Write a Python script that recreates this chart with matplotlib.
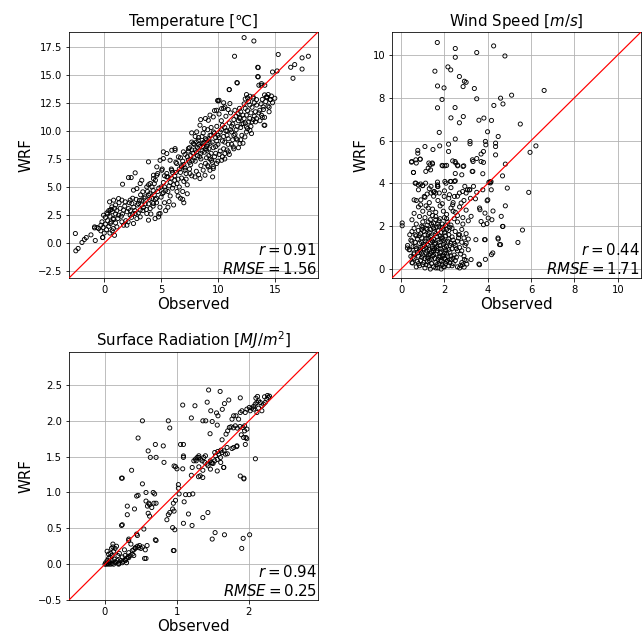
import matplotlib
matplotlib.use("Agg")
import matplotlib.pyplot as plt

# ---------------- data (observed, WRF) ----------------
temp_pairs = [
    (-2.54, 0.86), (-2.5, -0.68), (-2.3, -0.47), (-1.96, 0.06), (-1.75, 0.33), (-1.58, 0.5),
    (-1.17, 0.74), (-0.85, 1.36), (-0.79, 0.24), (-0.15, 0.5), (-0.85, 1.45), (-0.64, 1.40),
    (-0.29, 1.60), (-0.12, 0.51),
    (12.3, 18.3), (13.16, 18.0), (11.46, 16.64), (15.3, 16.8), (13.5, 15.66), (13.5, 14.83),
    (11.67, 14.3), (11.0, 13.67), (13.6, 14.06), (13.8, 14.06), (14.1, 13.2), (14.3, 13.0),
    (14.6, 12.78), (14.5, 12.1), (14.06, 10.5), (13.9, 11.2), (14.8, 15.24), (15.2, 15.33),
    (16.4, 15.66), (16.75, 15.9), (17.4, 16.5), (17.95, 16.64), (16.6, 14.68), (17.4, 15.5),
    (12.4, 12.84), (12.6, 12.95), (9.97, 12.7), (10.1, 12.72),
    (1.61, 5.25), (2.13, 5.84), (2.37, 5.84), (2.72, 6.26), (3.30, 5.60), (3.16, 5.31),
    (2.57, 4.72), (2.87, 4.86), (3.39, 4.57), (3.74, 5.01), (4.04, 5.31), (4.33, 5.75), (4.62, 6.05),
    (3.89, 7.24), (4.91, 7.38), (5.20, 8.13), (5.50, 7.98), (5.94, 8.27), (6.23, 8.42),
    (-0.06, 2.49), (0.23, 2.70), (0.53, 2.94), (0.67, 3.23), (0.47, 3.68), (0.82, 3.83),
    (1.26, 3.97), (1.55, 3.83), (1.84, 3.68), (2.28, 3.83), (2.43, 3.53), (2.13, 3.08),
    (1.70, 2.94), (1.26, 2.49), (0.82, 2.11), (0.53, 1.75), (1.11, 1.45), (1.55, 1.90),
    (1.99, 1.60), (2.57, 1.75), (2.87, 2.19), (3.16, 2.34), (2.28, 2.49), (2.72, 2.64),
    (3.16, 2.94), (3.45, 3.17), (3.01, 3.53), (3.30, 3.83), (3.60, 4.12), (3.89, 4.27),
    (4.18, 3.97), (4.33, 3.53), (4.04, 3.08), (3.74, 2.64), (3.89, 2.05), (4.47, 2.19),
    (4.77, 2.34), (4.91, 2.64),
    (8.48, 11.00), (8.42, 10.50), (7.69, 9.82), (8.13, 9.91), (9.15, 10.94), (9.59, 11.24),
    (9.88, 11.83), (10.32, 11.98), (10.61, 12.13), (11.05, 12.43), (11.49, 11.83), (11.78, 11.54),
    (11.93, 11.09), (12.22, 10.65), (12.51, 10.35), (12.81, 10.05), (12.95, 9.76), (12.37, 9.46),
    (11.93, 8.87), (11.35, 8.57), (10.91, 8.13), (10.61, 7.98), (10.32, 7.38), (9.88, 7.09),
    (9.59, 6.64), (9.15, 6.79), (9.44, 7.38), (9.01, 8.27), (8.71, 8.87), (8.27, 9.16),
    (7.84, 8.87), (7.40, 8.42), (6.96, 8.13), (6.52, 7.68), (6.23, 8.27), (5.79, 7.38),
    (5.20, 7.53), (5.06, 6.49), (4.62, 6.79), (4.33, 6.05), (5.50, 6.20), (5.94, 6.49),
    (6.37, 7.09), (6.81, 6.79), (7.11, 6.49), (7.54, 6.20), (7.98, 5.90), (8.42, 5.75),
    (8.86, 6.05), (9.30, 6.49), (9.53, 5.90),
    (13.54, 15.63), (13.54, 14.80), (14.12, 14.06), (13.83, 14.20), (11.70, 14.26), (10.99, 13.67),
    (10.03, 12.66), (12.81, 13.08), (12.51, 13.23), (13.10, 13.02), (13.39, 12.78), (14.27, 13.02),
    (14.42, 13.23), (14.62, 12.78), (13.98, 12.13), (14.12, 10.50), (13.39, 11.09), (13.83, 11.39),
    (13.68, 11.83),
    (-0.3, 1.1), (-0.1, 1.4), (0.0, 0.9), (0.1, 1.7), (0.2, 1.2), (0.3, 2.0), (0.4, 1.5),
    (0.5, 2.4), (0.5, 0.9), (0.6, 1.9), (0.7, 2.8), (0.8, 1.3), (0.8, 2.2), (0.9, 3.1),
    (1.0, 1.8), (1.0, 2.6), (0.3, 2.6), (0.6, 3.0), (-0.2, 1.9), (0.9, 0.7), (0.1, 2.3),
    (0.7, 1.1), (1.0, 3.4), (0.4, 2.9), (-0.5, 1.3),
    (1.2, 2.2), (1.4, 3.1), (1.6, 2.6), (1.8, 3.3), (2.0, 2.8), (2.2, 3.6), (2.4, 2.3),
    (2.6, 3.2), (2.8, 3.9), (3.0, 2.7), (1.3, 3.6), (1.9, 2.0), (2.5, 4.0), (2.1, 1.9),
    (1.7, 1.6), (2.9, 3.4), (3.2, 4.3), (3.4, 2.9), (1.1, 2.9), (2.3, 2.9),
    (3.6, 3.5), (3.8, 4.6), (4.0, 3.9), (4.2, 5.0), (4.4, 4.3), (4.6, 3.6), (4.8, 4.9),
    (5.0, 4.1), (5.2, 5.4), (5.4, 4.7), (3.7, 3.0), (4.1, 2.6), (4.5, 5.6), (4.9, 3.2),
    (5.3, 3.6), (3.9, 5.2), (4.3, 4.7), (4.7, 6.2), (5.1, 6.6), (5.5, 5.9), (4.0, 4.4),
    (4.6, 4.0), (5.2, 4.5), (3.5, 4.0), (4.8, 2.6), (5.4, 2.9), (5.0, 5.0), (4.4, 5.3),
    (3.9, 3.5), (5.3, 6.0),
    (5.6, 4.6), (5.8, 5.4), (6.0, 4.9), (6.2, 6.0), (6.4, 5.3), (6.6, 6.6), (6.8, 5.8),
    (7.0, 7.0), (7.2, 6.2), (7.4, 7.4), (5.7, 3.7), (6.1, 3.4), (6.5, 4.2), (6.9, 4.6),
    (7.3, 5.2), (5.9, 6.6), (6.3, 7.2), (6.7, 7.6), (7.1, 7.9), (5.6, 5.9), (6.0, 6.3),
    (6.4, 4.6), (6.8, 6.9), (7.2, 5.7), (7.5, 6.6), (5.8, 4.2), (6.2, 5.6), (6.6, 5.0),
    (7.0, 5.5), (7.4, 8.2), (5.6, 3.2), (6.9, 3.9), (7.3, 4.4), (6.7, 4.0), (7.0, 3.6),
    (7.6, 7.0), (7.8, 8.0), (8.0, 7.3), (8.2, 8.5), (8.4, 7.7), (8.6, 8.9), (8.8, 8.1),
    (9.0, 9.2), (9.2, 8.4), (9.4, 9.6), (7.7, 6.0), (8.1, 6.4), (8.5, 6.9), (8.9, 7.1),
    (9.3, 7.5), (7.9, 8.8), (8.3, 9.4), (8.7, 9.8), (9.1, 10.1), (7.6, 7.8), (8.0, 8.3),
    (8.4, 8.6), (8.8, 9.0), (9.2, 9.3), (7.8, 7.4), (8.2, 7.8), (8.6, 8.2), (9.0, 8.6),
    (9.4, 8.0), (7.5, 8.5), (8.1, 9.0), (8.5, 7.5), (8.9, 8.4), (9.3, 8.9), (8.3, 6.1),
    (8.7, 6.5), (9.1, 6.9), (9.5, 7.2), (8.0, 9.5), (7.7, 9.0), (8.6, 9.5), (9.4, 10.3),
    (8.8, 10.2), (9.2, 7.8),
    (9.6, 8.5), (9.8, 9.4), (10.0, 8.8), (10.2, 9.9), (10.4, 9.1), (10.6, 10.3), (10.8, 9.6),
    (11.0, 10.7), (11.2, 9.9), (11.4, 11.0), (9.7, 7.7), (10.1, 7.9), (10.5, 8.4), (10.9, 8.8),
    (11.3, 9.2), (9.9, 10.4), (10.3, 10.9), (10.7, 11.3), (11.1, 11.6), (9.6, 9.9), (10.0, 9.6),
    (10.4, 10.5), (10.8, 10.0), (11.2, 10.4), (10.6, 7.5), (11.0, 7.9), (11.4, 8.4), (10.2, 8.2),
    (9.8, 8.0), (10.9, 11.9), (10.5, 12.0), (10.1, 11.5),
    (11.6, 10.1), (11.8, 10.9), (12.0, 10.3), (12.2, 11.4), (12.4, 10.7), (12.6, 11.8),
    (12.8, 11.1), (13.0, 12.1), (13.2, 11.3), (13.4, 12.3), (11.7, 9.2), (12.1, 9.6),
    (12.5, 9.9), (12.9, 10.4), (13.3, 10.8), (11.9, 12.0), (12.3, 12.4), (12.7, 12.6),
    (13.1, 12.9), (11.6, 11.3), (12.0, 11.7), (12.4, 12.0), (12.8, 12.3), (13.2, 12.5),
    (12.2, 8.9), (11.8, 8.5),
    (13.6, 11.6), (13.8, 12.4), (14.0, 11.9), (14.2, 12.6), (14.4, 12.2), (14.6, 12.8),
    (14.8, 12.5), (13.7, 10.9), (14.1, 11.2), (14.5, 11.7), (13.9, 12.8), (14.3, 13.0),
    (14.7, 13.1), (15.0, 12.9),
    (7.3, 7.7), (7.5, 7.2), (7.7, 8.3), (7.9, 7.6), (8.1, 8.1), (8.3, 8.8), (8.5, 8.0),
    (8.7, 8.6), (8.9, 9.3), (9.1, 8.8), (9.3, 9.6), (9.5, 9.0), (9.7, 9.8), (9.9, 9.1),
    (10.1, 9.4), (10.3, 10.1), (10.5, 9.5), (10.7, 10.0), (10.9, 9.3), (11.1, 10.1),
    (11.3, 10.6), (11.5, 9.7), (11.7, 10.4), (11.9, 11.2), (12.1, 10.6), (12.3, 11.1),
    (12.5, 11.4), (12.7, 10.8), (12.9, 11.6), (13.1, 11.0), (13.3, 11.7), (6.1, 5.2),
    (6.3, 6.3), (6.5, 5.7), (6.7, 6.3), (6.9, 7.3), (7.1, 6.7), (5.7, 5.1), (5.9, 5.8),
    (5.3, 5.0), (5.1, 4.4), (4.7, 4.6), (4.5, 3.9), (4.3, 3.3), (3.3, 3.4), (3.1, 3.8),
    (2.7, 2.9), (2.5, 2.6), (1.5, 2.4), (9.6, 6.8), (10.0, 7.3), (10.4, 7.7), (10.8, 8.3),
    (11.2, 8.8), (11.6, 9.3), (12.0, 9.2), (12.6, 10.2), (13.0, 10.8), (8.9, 11.1),
    (9.3, 11.4), (9.7, 11.8), (10.5, 12.5), (9.0, 7.6), (9.8, 8.6), (10.6, 9.0), (11.4, 9.6),
]

wind_pairs = [
    (1.67, 10.58), (2.50, 10.30), (2.50, 9.89), (3.49, 10.11), (4.27, 10.42), (4.79, 9.95),
    (1.56, 9.24), (2.16, 9.44), (2.29, 9.30), (2.69, 8.99), (2.92, 8.77), (3.0, 8.72),
    (2.86, 8.52), (1.68, 8.55), (1.98, 8.46), (3.38, 8.43), (1.89, 7.92), (3.49, 7.95),
    (1.68, 7.53), (2.49, 7.54), (2.30, 7.06), (2.87, 7.12), (2.69, 6.83), (3.59, 6.95),
    (3.82, 7.05), (4.17, 6.94), (4.59, 7.98), (4.28, 7.64), (4.70, 7.71), (5.10, 8.12),
    (6.60, 8.34), (5.50, 6.77), (1.76, 6.38), (3.99, 6.41), (2.50, 6.07), (4.48, 6.19),
    (3.18, 5.96), (3.18, 5.85), (3.89, 5.96), (3.91, 5.80), (4.36, 5.88), (4.36, 5.72),
    (4.36, 5.33), (2.19, 5.83), (2.19, 5.49), (1.78, 5.75), (1.10, 5.72), (0.77, 5.54),
    (0.77, 5.41), (0.88, 5.13), (1.47, 5.58), (0.48, 4.99), (0.70, 4.95), (0.57, 4.51),
    (3.69, 5.37), (3.80, 5.49), (3.49, 5.16), (3.29, 5.10), (3.80, 4.98), (2.38, 5.05),
    (2.52, 4.95), (2.61, 4.85), (2.86, 4.79), (1.89, 4.84), (2.10, 4.84), (1.28, 4.95),
    (1.44, 4.95), (1.25, 4.71), (1.36, 4.63), (3.77, 4.45), (3.28, 4.56), (2.50, 4.46),
    (2.50, 4.12), (4.81, 4.90), (4.68, 4.35), (4.10, 4.07), (4.05, 4.05), (4.12, 4.02),
    (4.15, 4.08), (4.90, 3.78), (5.89, 3.58), (5.95, 5.45), (6.22, 5.75), (0.68, 4.01),
    (0.90, 3.97), (1.13, 4.01), (1.68, 4.06), (1.68, 3.86), (2.07, 4.01), (2.30, 4.09),
    (2.94, 3.86), (3.06, 3.70), (3.17, 3.70), (3.34, 3.86), (3.49, 3.58), (3.77, 3.70),
    (3.43, 3.28), (3.97, 3.19), (4.81, 2.95), (3.64, 2.77), (3.87, 2.61), (4.02, 2.38),
    (4.24, 2.71), (3.80, 2.07), (3.96, 2.12), (4.19, 2.30), (4.68, 1.99), (5.60, 1.82),
    (3.45, 1.37), (3.88, 1.37), (4.48, 1.40), (4.59, 1.14), (5.39, 1.24), (4.17, 0.67),
    (3.89, 0.45), (3.59, 0.23), (3.03, 0.23), (2.91, 0.09), (2.75, 0.17),
    (0.05, 2.15), (0.05, 2.02),
    (0.49, 5.02), (0.68, 5.10), (0.88, 5.13), (0.57, 4.51), (0.65, 4.01), (1.14, 4.56),
    (1.34, 4.87), (1.45, 4.91), (1.92, 4.82), (2.02, 4.82), (2.49, 5.02), (2.61, 4.82),
    (2.89, 4.82), (3.32, 5.02), (3.69, 5.02), (3.31, 4.56), (2.80, 4.40), (2.46, 4.09),
    (2.27, 4.09), (2.02, 4.09), (1.68, 3.93), (1.38, 3.86), (0.99, 3.89), (0.79, 3.93),
    (0.60, 3.23), (0.91, 3.23), (1.07, 3.39), (1.38, 3.55), (1.53, 3.62), (1.76, 3.55),
    (1.99, 3.39), (2.23, 3.47), (2.46, 3.39), (2.69, 3.55), (2.84, 3.62), (3.00, 3.55),
    (3.15, 3.70), (2.77, 3.08), (2.38, 3.00), (3.23, 2.46), (3.62, 2.85), (3.69, 2.22),
    (4.00, 3.23), (4.16, 3.70), (4.62, 2.46), (4.70, 1.99), (3.85, 1.37), (4.47, 1.45),
    (4.54, 1.14), (4.23, 0.75), (3.62, 0.20), (3.23, 0.44), (2.84, 0.20), (2.92, 0.44),
    (0.29, 0.98), (0.37, 0.90), (0.45, 0.59), (0.53, 0.28), (0.60, 0.75),
    (0.5, 0.3), (0.7, 0.1), (0.9, 0.4), (1.0, 0.2), (1.1, 0.05), (1.2, 0.35), (1.3, 0.15),
    (1.4, 0.45), (1.5, 0.1), (1.6, 0.3), (1.7, 0.05), (1.8, 0.4), (1.9, 0.2), (2.0, 0.1),
    (2.1, 0.35), (2.2, 0.15), (2.3, 0.45), (2.4, 0.25), (2.6, 0.1), (2.8, 0.3), (3.0, 0.4),
    (0.8, 0.25), (1.25, 0.5), (1.65, 0.2), (2.05, 0.45), (2.5, 0.4), (1.35, 0.0), (1.85, 0.0),
    (0.6, 0.5), (2.7, 0.05),
    (0.4, 0.9), (0.6, 0.7), (0.7, 0.95), (0.8, 0.6), (0.9, 0.85), (1.0, 0.65), (1.05, 0.95),
    (1.15, 0.75), (1.2, 0.55), (1.3, 0.9), (1.35, 0.7), (1.45, 0.6), (1.5, 0.85), (1.6, 0.7),
    (1.7, 0.95), (1.75, 0.55), (1.85, 0.8), (1.95, 0.65), (2.05, 0.9), (2.15, 0.6), (2.25, 0.8),
    (2.35, 0.95), (2.45, 0.65), (2.6, 0.85), (2.75, 0.7), (2.9, 0.6), (3.1, 0.9), (0.55, 0.55),
    (1.1, 0.5), (1.55, 0.95), (2.0, 0.75), (2.55, 0.55), (0.95, 0.75), (1.4, 0.8), (1.8, 0.6),
    (0.3, 1.1), (0.5, 1.3), (0.65, 1.05), (0.75, 1.4), (0.85, 1.2), (0.95, 1.45), (1.0, 1.05),
    (1.1, 1.3), (1.2, 1.15), (1.25, 1.45), (1.35, 1.25), (1.45, 1.05), (1.5, 1.4), (1.6, 1.2),
    (1.7, 1.35), (1.8, 1.1), (1.9, 1.45), (2.0, 1.25), (2.1, 1.05), (2.2, 1.4), (2.3, 1.2),
    (2.4, 1.35), (2.5, 1.1), (2.65, 1.45), (2.8, 1.25), (2.95, 1.1), (3.1, 1.4), (0.9, 1.0),
    (1.4, 1.35), (1.95, 1.15), (2.7, 1.0), (1.15, 1.0), (1.65, 1.5),
    (0.4, 1.6), (0.6, 1.9), (0.7, 1.55), (0.8, 1.8), (0.9, 1.65), (1.0, 1.95), (1.1, 1.6),
    (1.2, 1.85), (1.3, 1.7), (1.4, 1.55), (1.5, 1.9), (1.6, 1.65), (1.7, 1.8), (1.8, 1.55),
    (1.9, 1.95), (2.0, 1.7), (2.1, 1.85), (2.2, 1.6), (2.35, 1.9), (2.5, 1.75), (2.65, 1.6),
    (2.8, 1.85), (3.0, 1.65), (1.25, 1.6), (1.75, 2.0), (2.25, 1.95), (0.5, 1.75),
    (0.5, 2.3), (0.7, 2.1), (0.85, 2.45), (1.0, 2.2), (1.1, 2.4), (1.2, 2.05), (1.35, 2.3),
    (1.5, 2.15), (1.6, 2.45), (1.75, 2.25), (1.9, 2.1), (2.0, 2.4), (2.15, 2.2), (2.3, 2.05),
    (2.45, 2.35), (2.6, 2.2), (2.85, 2.4), (3.1, 2.25), (1.45, 2.5), (0.95, 2.0),
    (0.6, 2.6), (0.8, 2.9), (1.0, 2.7), (1.15, 2.95), (1.3, 2.6), (1.45, 2.8), (1.6, 2.65),
    (1.8, 2.95), (1.95, 2.7), (2.1, 2.55), (2.3, 2.85), (2.5, 2.65), (2.7, 2.9), (3.0, 2.75),
    (1.25, 2.85),
    (0.7, 3.2), (0.9, 3.0), (1.1, 3.35), (1.3, 3.1), (1.5, 3.4), (1.7, 3.2), (1.9, 3.05),
    (2.2, 3.3), (2.4, 3.1), (2.6, 3.4), (2.9, 3.2), (3.2, 3.3), (1.2, 3.5), (1.6, 3.55),
    (0.8, 3.7), (1.0, 3.9), (1.3, 3.75), (1.5, 3.6), (1.7, 3.85), (2.0, 3.65), (2.3, 3.8),
    (0.75, 0.35), (0.85, 0.15), (0.95, 0.55), (1.05, 0.3), (1.15, 0.2), (1.25, 0.65),
    (1.3, 0.4), (1.4, 0.25), (1.45, 0.95), (1.55, 0.5), (1.6, 0.05), (1.65, 0.85),
    (1.7, 0.45), (1.75, 0.25), (1.8, 0.75), (1.85, 0.35), (1.9, 0.6), (1.95, 0.1),
    (2.0, 0.5), (2.05, 0.25), (2.1, 0.7), (2.15, 0.4), (2.2, 0.9), (2.25, 0.3),
    (2.3, 0.6), (2.35, 0.15), (2.4, 0.5), (0.85, 0.9), (0.95, 1.25), (1.05, 1.15),
    (1.15, 1.4), (1.25, 1.1), (1.35, 1.5), (1.45, 1.3), (1.55, 1.15), (1.65, 1.05),
    (1.75, 1.25), (1.85, 1.45), (1.95, 1.35), (2.05, 1.55), (2.15, 1.3), (2.25, 1.1),
    (2.35, 1.5), (2.45, 1.2), (1.05, 1.75), (1.15, 1.9), (1.35, 1.85), (1.45, 2.0),
    (1.55, 1.75), (1.65, 1.95), (1.85, 1.7), (1.95, 1.85), (2.05, 2.05), (2.2, 1.8),
    (1.25, 2.2), (1.4, 2.1), (1.6, 2.3), (1.7, 2.1), (1.8, 2.35), (2.1, 2.35),
    (0.65, 1.25), (0.75, 0.75), (0.55, 1.05), (0.45, 1.35), (0.65, 1.6), (0.85, 1.55),
    (0.95, 1.85), (1.2, 0.85), (1.5, 0.65), (1.8, 0.95), (2.0, 1.0), (2.6, 1.3),
    (2.7, 1.6), (2.9, 1.45), (2.55, 0.95), (2.8, 0.85), (3.0, 1.2), (2.85, 2.1),
    (2.6, 2.5), (2.4, 2.7),
]

rad_pairs = [
    (1.44, 2.43), (1.60, 2.41), (1.42, 2.26), (1.72, 2.29), (1.88, 2.32), (1.08, 2.22),
    (1.25, 2.21), (1.66, 2.24), (1.47, 2.14), (1.55, 2.11), (1.63, 2.16), (1.20, 2.04),
    (1.36, 2.0), (1.40, 2.0), (1.49, 1.99), (1.57, 2.07), (1.56, 1.94), (0.52, 2.0),
    (0.88, 2.0), (0.90, 1.90), (0.46, 1.76), (0.60, 1.58), (0.70, 1.67), (0.81, 1.65),
    (0.63, 1.49), (0.71, 1.49), (1.05, 1.67), (1.09, 1.67), (1.09, 1.51), (1.09, 1.49),
    (0.82, 1.42), (0.96, 1.37), (0.98, 1.36), (1.0, 1.33), (1.08, 1.33), (0.37, 1.31),
    (0.24, 1.20), (0.52, 1.12), (0.44, 0.95), (0.46, 0.96), (0.57, 1.0), (0.67, 1.0),
    (0.69, 0.98), (0.57, 0.88), (0.61, 0.85), (0.68, 0.85), (0.71, 0.85), (0.59, 0.81),
    (0.62, 0.83), (0.65, 0.79), (0.41, 0.77), (0.31, 0.81), (0.31, 0.69), (0.24, 0.55),
    (0.60, 0.71), (0.62, 0.67), (1.02, 1.11), (1.02, 1.06), (1.03, 0.98), (0.95, 0.85),
    (0.94, 0.77), (0.96, 0.74), (0.90, 0.72), (0.88, 0.69), (0.86, 0.62), (0.98, 0.89),
    (1.10, 0.87), (1.12, 0.97), (1.17, 0.97), (1.22, 0.98), (1.16, 0.70), (1.09, 0.57),
    (1.21, 0.54), (0.94, 0.51), (0.97, 0.48), (1.36, 0.65), (1.43, 0.72), (0.96, 0.19),
    (0.56, 0.2), (0.71, 0.33), (0.57, 0.08), (1.53, 0.44), (1.49, 0.35), (1.66, 0.41),
    (1.92, 0.36), (2.01, 0.41), (1.90, 0.22), (1.88, 1.23), (1.93, 1.20), (2.09, 1.47),
    (1.235, 1.442), (1.258, 1.465), (1.281, 1.488), (1.304, 1.488), (1.327, 1.465),
    (1.350, 1.442), (1.267, 1.442), (1.304, 1.512), (1.373, 1.488), (1.396, 1.512),
    (1.387, 1.419), (1.419, 1.395), (1.465, 1.442), (1.479, 1.419), (1.502, 1.405),
    (1.525, 1.442), (1.535, 1.512), (1.581, 1.535), (1.604, 1.488), (1.627, 1.558),
    (1.654, 1.581), (1.673, 1.535), (1.696, 1.628), (1.650, 1.349), (1.608, 1.419),
    (1.765, 1.614), (1.788, 1.628), (1.834, 1.651), (1.627, 1.735), (1.682, 1.814),
    (1.705, 1.860), (1.728, 1.907), (1.751, 1.916), (1.783, 1.902), (1.811, 1.930),
    (1.839, 1.898), (1.876, 1.921), (1.917, 1.907), (1.940, 1.860), (1.959, 1.767),
    (1.972, 1.884), (1.894, 1.805), (1.926, 1.767), (1.765, 2.023), (1.788, 2.070),
    (1.820, 2.070), (1.857, 2.023), (1.880, 2.116), (1.903, 2.140), (1.949, 2.116),
    (1.972, 2.163), (2.005, 2.186), (2.018, 2.140), (2.041, 2.177), (2.065, 2.200),
    (2.088, 2.233), (2.111, 2.256), (2.134, 2.279), (2.157, 2.256), (2.180, 2.209),
    (2.203, 2.233), (2.226, 2.256), (2.249, 2.302), (2.272, 2.326), (2.134, 2.177),
    (2.180, 2.140), (2.111, 2.116), (2.065, 2.163), (2.097, 2.316), (2.120, 2.340),
    (2.217, 2.335), (2.258, 2.353), (2.286, 2.344), (1.525, 1.558), (1.567, 1.572),
    (1.465, 1.326), (1.433, 1.372), (1.359, 1.209), (1.323, 1.233), (1.304, 1.358),
    (1.212, 1.349),
    (1.20, 1.24), (1.30, 1.22), (1.36, 1.31), (1.49, 1.41), (1.56, 1.30), (1.65, 1.35),
    (1.56, 1.46), (1.61, 1.59), (1.70, 1.54), (1.83, 1.64), (1.95, 1.67), (1.94, 1.93),
    (1.97, 1.75), (1.93, 1.19), (1.46, 1.82),
    (0.0, 0.0), (0.02, 0.0), (0.04, 0.01), (0.05, 0.0), (0.06, 0.02), (0.08, 0.0), (0.1, 0.01),
    (0.12, 0.0), (0.15, 0.02), (0.03, 0.05), (0.05, 0.08), (0.07, 0.1), (0.08, 0.15),
    (0.1, 0.12), (0.12, 0.18), (0.14, 0.22), (0.16, 0.25), (0.05, 0.14), (0.03, 0.18),
    (0.1, 0.05), (0.13, 0.07), (0.17, 0.05), (0.2, 0.03), (0.22, 0.05), (0.25, 0.04),
    (0.28, 0.06), (0.3, 0.08), (0.32, 0.1), (0.35, 0.12), (0.38, 0.14), (0.4, 0.2),
    (0.42, 0.22), (0.45, 0.25), (0.48, 0.26), (0.5, 0.22), (0.36, 0.28), (0.33, 0.33),
    (0.45, 0.4), (0.18, 0.12), (0.2, 0.15), (0.24, 0.1), (0.28, 0.12), (0.27, 0.2),
    (0.09, 0.22), (0.06, 0.04), (0.01, 0.02), (0.11, 0.28), (0.19, 0.0), (0.14, 0.03),
    (0.3, 0.02), (0.11, 0.24), (0.23, 1.2), (0.23, 0.54), (0.33, 0.35), (0.44, 0.42),
    (0.55, 0.08), (0.70, 0.34), (0.95, 0.19), (0.33, 0.16), (0.38, 0.19), (0.42, 0.23),
    (0.47, 0.23), (0.52, 0.24), (0.585, 0.26), (0.40, 0.12), (0.33, 0.09), (0.285, 0.05),
    (0.24, 0.02), (0.19, 0.01), (0.54, 0.49),
]

titles = ["Temperature [℃]", "Wind Speed [$m/s$]", "Surface Radiation [$MJ/m^2$]"]
r_values = [0.91, 0.44, 0.94]
rmse_values = [1.56, 1.71, 0.25]
limits = [(-3.1, 18.8), (-0.42, 11.07), (-0.5, 2.96)]
xticks = [[0, 5, 10, 15], [0, 2, 4, 6, 8, 10], [0, 1, 2]]
yticks = [[-2.5, 0.0, 2.5, 5.0, 7.5, 10.0, 12.5, 15.0, 17.5],
          [0, 2, 4, 6, 8, 10],
          [-0.5, 0.0, 0.5, 1.0, 1.5, 2.0, 2.5]]

W, H = 643, 636
fig = plt.figure(figsize=(W / 72, H / 72), dpi=72)
boxes = [
    [69 / W, 1 - 278 / H, 249 / W, 246 / H],
    [392 / W, 1 - 278 / H, 249 / W, 246 / H],
    [69 / W, 1 - 600 / H, 249 / W, 248 / H],
]

datasets = [temp_pairs, wind_pairs, rad_pairs]
for i, pairs in enumerate(datasets):
    ax = fig.add_axes(boxes[i])
    obs = [p[0] for p in pairs]
    wrf = [p[1] for p in pairs]
    ax.scatter(obs, wrf, s=17, facecolors='none', edgecolors='k', linewidths=0.9, zorder=3)
    lo, hi = limits[i]
    ax.plot([lo, hi], [lo, hi], color='red', lw=1.2, zorder=4)
    ax.set_xlim(lo, hi)
    ax.set_ylim(lo, hi)
    ax.set_xticks(xticks[i])
    ax.set_yticks(yticks[i])
    ax.grid(True, color='#b0b0b0', lw=0.8)
    ax.set_axisbelow(True)
    ax.tick_params(labelsize=10)
    ax.set_title(titles[i], fontsize=15)
    ax.set_xlabel("Observed", fontsize=15, labelpad=2)
    ax.set_ylabel("WRF", fontsize=15)
    ax.text(0.995, 0.005, "$r = %.2f$\n$RMSE = %.2f$" % (r_values[i], rmse_values[i]),
            transform=ax.transAxes, ha='right', va='bottom', fontsize=15,
            multialignment='right', zorder=5)

fig.savefig("out.png", dpi=72)
